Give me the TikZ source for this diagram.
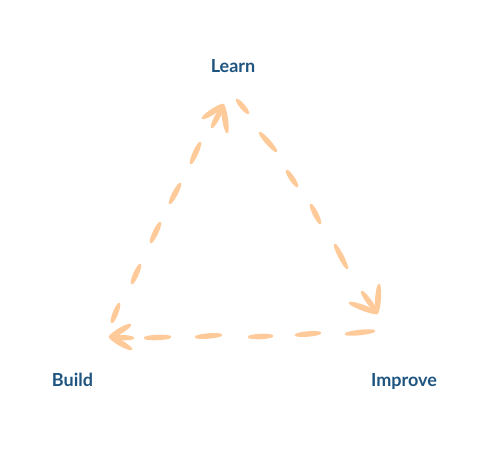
\documentclass[tikz,border=0pt]{standalone}
\usepackage{fontspec}
\setmainfont{Lato}
\usetikzlibrary{calc}
\definecolor{brushcol}{RGB}{255,202,153}
\definecolor{lblcol}{RGB}{30,84,128}
\newcommand{\brushstroke}[3][1.9pt]{%
  \filldraw[brushcol,line width=2.6pt,line join=round]
    (#2) .. controls ($(#2)!0.2!(#3)!#1!90:(#3)$) and ($(#2)!0.8!(#3)!#1!90:(#3)$) .. (#3)
         .. controls ($(#3)!0.2!(#2)!#1!90:(#2)$) and ($(#3)!0.8!(#2)!#1!90:(#2)$) .. (#2) -- cycle;}
\tikzset{lbl/.style={text=lblcol,font=\fontsize{18}{21}\selectfont\bfseries,anchor=base,inner sep=0pt}}
\begin{document}
\begin{tikzpicture}[x=1pt,y=-1pt]
\useasboundingbox (0,0) rectangle (489,449);
% labels
\node[lbl] (learn) at (233,73) {Learn};
\node[lbl] (build) at (72.5,386) {Build};
\node[lbl] (improve) at (404,386) {Improve};
% left side, upward
\brushstroke{112,322}{119,304}
\brushstroke{132,283}{140,265}
\brushstroke{151,242}{160,223}
\brushstroke{170,203}{180,184}
\brushstroke{191,163}{200,143}
% top arrowhead
\brushstroke{212,127}{222,108}
\brushstroke[2.2pt]{203,118}{223,105}
\brushstroke[2.2pt]{227,132}{223,105}
% right side, downward
\brushstroke{237,100}{248,113}
\brushstroke{260,133}{276,151}
\brushstroke{287,171}{297,186}
\brushstroke{311,205}{320,223}
\brushstroke{335,245}{347,268}
% right arrowhead
\brushstroke{362,292}{376,311}
\brushstroke[2.2pt]{379,285}{377,313}
\brushstroke[2.2pt]{350,303}{377,313}
% bottom, leftward
\brushstroke{374,331}{346,334}
\brushstroke{320,333}{296,335}
\brushstroke{272,336}{249,337}
\brushstroke{221,335}{196,337}
\brushstroke{170,337}{145,338}
% left arrowhead
\brushstroke{133,338}{110,337}
\brushstroke[2.2pt]{130,325}{110,337}
\brushstroke[2.2pt]{131,349}{110,337}
\end{tikzpicture}
\end{document}
